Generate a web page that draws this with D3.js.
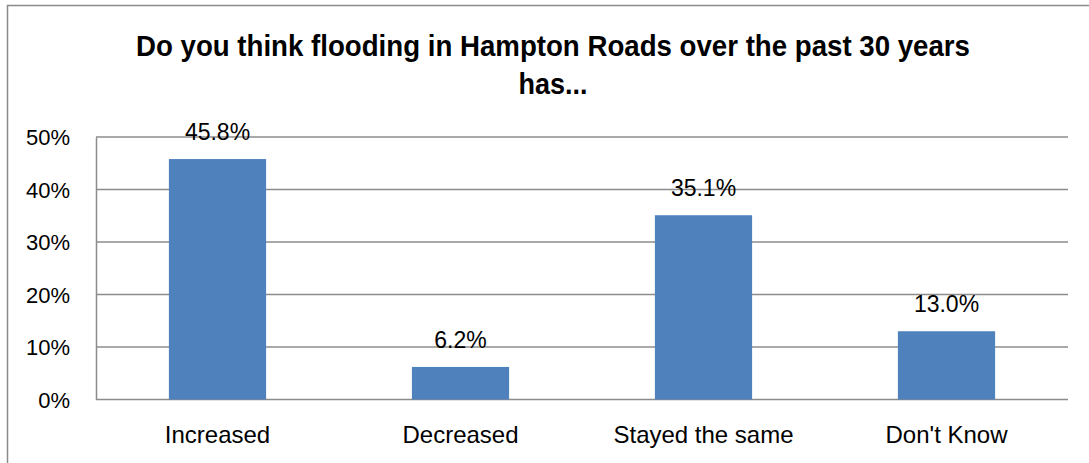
<!DOCTYPE html>
<html><head><meta charset="utf-8">
<script src="https://cdn.jsdelivr.net/npm/d3@7"></script>
<style>html,body{margin:0;padding:0;background:#fff;}svg{display:block;}</style>
</head><body>
<svg id="chart" width="1089" height="463"></svg>
<script>
const titleLines = ["Do you think flooding in Hampton Roads over the past 30 years", "has..."];
const categories = ["Increased", "Decreased", "Stayed the same", "Don't Know"];
const values = [45.8, 6.2, 35.1, 13.0];
const valueLabels = ["45.8%", "6.2%", "35.1%", "13.0%"];
const yTicks = [0, 10, 20, 30, 40, 50];

const svg = d3.select("#chart");
const font = "'Liberation Sans', Arial, sans-serif";
const plot = {left: 96, right: 1068, top: 137, bottom: 399.5};

// outer chart border (left and top visible)
svg.append("path").attr("d", "M7.5,463 L7.5,5.5 L1089,5.5")
  .attr("fill", "none").attr("stroke", "#8a8a8a").attr("stroke-width", 1.5);

const x = d3.scaleBand().domain(categories).range([plot.left, plot.right]).paddingInner(0.6).paddingOuter(0.3);
const y = d3.scaleLinear().domain([0, 50]).range([plot.bottom, plot.top]);

// gridlines
svg.append("g").selectAll("line").data(yTicks).join("line")
  .attr("x1", plot.left).attr("x2", plot.right)
  .attr("y1", d => y(d)).attr("y2", d => y(d))
  .attr("stroke", "#8c8c8c").attr("stroke-width", 1.5);

// y axis
const yAxis = d3.axisLeft(y).tickValues(yTicks).tickFormat(d => d + "%").tickSize(0).tickPadding(26);
const ya = svg.append("g").attr("transform", `translate(${plot.left},0)`).call(yAxis);
ya.select(".domain").attr("stroke", "#8c8c8c").attr("stroke-width", 1.5);
ya.selectAll("text").attr("font-family", font).attr("font-size", 22).attr("fill", "#000").attr("dy", "0.36em");

// bars
svg.append("g").selectAll("rect").data(values).join("rect")
  .attr("x", (d, i) => x(categories[i]))
  .attr("width", x.bandwidth())
  .attr("y", d => y(d))
  .attr("height", d => y(0) - y(d))
  .attr("fill", "#4f81bd");

// value labels
svg.append("g").selectAll("text").data(values).join("text")
  .attr("x", (d, i) => x(categories[i]) + x.bandwidth() / 2)
  .attr("y", d => y(d) - 19)
  .attr("text-anchor", "middle")
  .attr("font-family", font).attr("font-size", 23).attr("fill", "#000")
  .text((d, i) => valueLabels[i]);

// x axis labels
const xAxis = d3.axisBottom(x).tickSize(0).tickPadding(0);
const xa = svg.append("g").attr("transform", `translate(0,${plot.bottom})`).call(xAxis);
xa.select(".domain").remove();
xa.selectAll("text").attr("font-family", font).attr("font-size", 24).attr("fill", "#000")
  .attr("dy", null).attr("y", 43);

// title
const t = svg.append("g");
t.append("text").attr("x", 553).attr("y", 56).attr("text-anchor", "middle")
  .attr("font-family", font).attr("font-weight", "bold").attr("font-size", 29)
  .attr("textLength", 834).attr("lengthAdjust", "spacingAndGlyphs")
  .text(titleLines[0]);
t.append("text").attr("x", 553).attr("y", 94).attr("text-anchor", "middle")
  .attr("font-family", font).attr("font-weight", "bold").attr("font-size", 29)
  .attr("textLength", 69).attr("lengthAdjust", "spacingAndGlyphs")
  .text(titleLines[1]);
</script>
</body></html>
